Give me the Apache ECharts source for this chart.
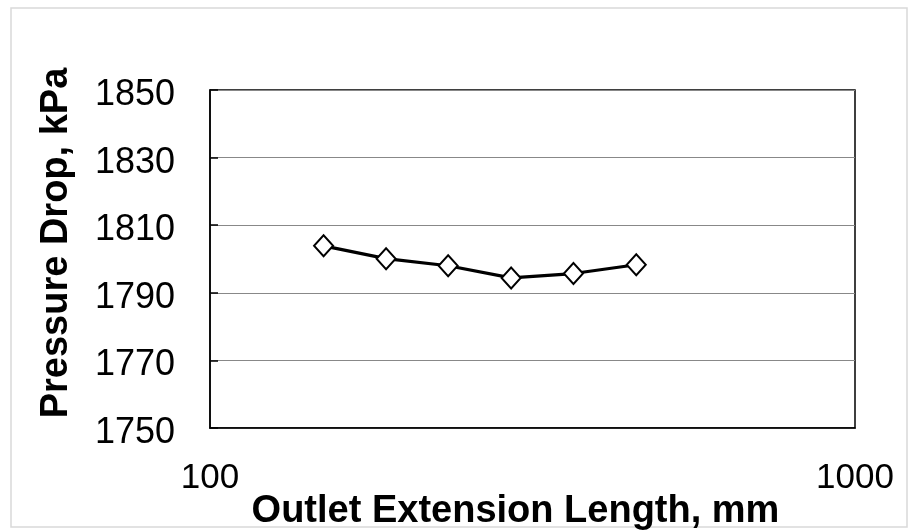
<!DOCTYPE html>
<html>
<head>
<meta charset="utf-8">
<script src="https://cdn.jsdelivr.net/npm/echarts@6/dist/echarts.min.js"></script>
<style>
  html, body { margin: 0; padding: 0; background: #fff; }
  #main { width: 918px; height: 532px; }
</style>
</head>
<body>
<div id="main"></div>
<script>
var lengths = [150, 187.5, 234, 293, 366, 458];
var pressureDrop = [1803.9, 1800.1, 1798.0, 1794.4, 1795.7, 1798.3];

var chartDom = document.getElementById('main');
var myChart = echarts.init(chartDom);
var font = 'Liberation Sans, Arial, sans-serif';

var option = {
    animation: false,
    graphic: {
        elements: [{
            type: 'rect',
            shape: { x: 11, y: 8, width: 896, height: 519 },
            style: { fill: 'none', stroke: '#d9d9d9', lineWidth: 1.5 }
        }]
    },
    grid: {
        left: 210, right: 63, top: 90, bottom: 104,
        outerBoundsMode: 'none',
        containLabel: false,
        show: true, borderColor: '#000', borderWidth: 1.5
    },
    xAxis: {
        type: 'log',
        logBase: 10,
        min: 100,
        max: 1000,
        name: 'Outlet Extension Length, mm',
        nameLocation: 'middle',
        nameGap: 65,
        nameMoveOverlap: false,
        nameTextStyle: { fontFamily: font, fontSize: 38, fontWeight: 'bold', color: '#000', padding: [0, 34, 0, 0] },
        axisLine: { show: true, lineStyle: { color: '#000', width: 1.5 } },
        axisTick: { show: false },
        minorTick: { show: false },
        splitLine: { show: false },
        axisLabel: {
            fontFamily: font, fontSize: 35, color: '#000', margin: 33,
            formatter: function (v) { return String(v); }
        }
    },
    yAxis: {
        type: 'value',
        min: 1750,
        max: 1850,
        interval: 20,
        name: 'Pressure Drop, kPa',
        nameLocation: 'middle',
        nameGap: 134,
        nameMoveOverlap: false,
        nameTextStyle: { fontFamily: font, fontSize: 38, fontWeight: 'bold', color: '#000', padding: [0, 0, 0, 32] },
        axisLine: { show: true, lineStyle: { color: '#000', width: 1.5 } },
        axisTick: { show: true, inside: true, length: 8, lineStyle: { color: '#000', width: 1.5 } },
        splitLine: { show: true, lineStyle: { color: '#888', width: 1.2 } },
        axisLabel: {
            color: '#000', margin: 35,
            formatter: function (v) { return '{v|' + v + '}'; },
            rich: { v: { fontFamily: font, fontSize: 36, color: '#000', padding: [10, 0, 0, 0] } }
        }
    },
    series: [{
        type: 'line',
        data: lengths.map(function (x, i) { return [x, pressureDrop[i]]; }),
        symbol: 'diamond',
        symbolSize: [19, 21],
        itemStyle: { color: '#fff', borderColor: '#000', borderWidth: 2 },
        lineStyle: { color: '#000', width: 3.2 }
    }]
};

myChart.setOption(option);
</script>
</body>
</html>
